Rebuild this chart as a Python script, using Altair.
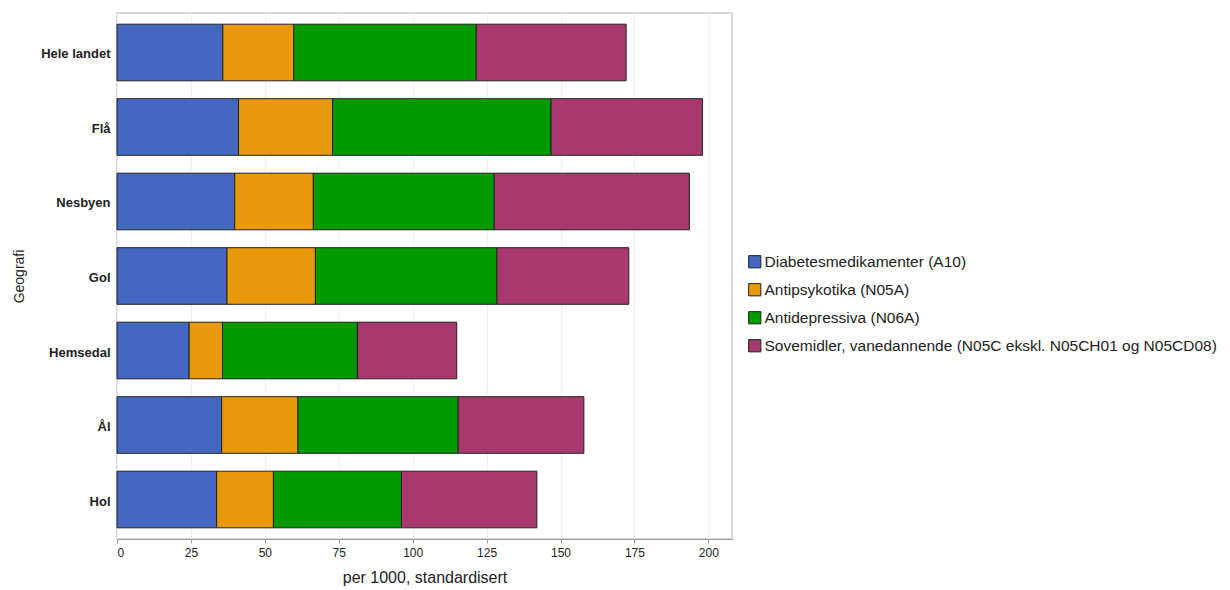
import altair as alt
import pandas as pd

regions = ["Hele landet", "Flå", "Nesbyen", "Gol", "Hemsedal", "Ål", "Hol"]
series = [
    "Diabetesmedikamenter (A10)",
    "Antipsykotika (N05A)",
    "Antidepressiva (N06A)",
    "Sovemidler, vanedannende (N05C ekskl. N05CH01 og N05CD08)",
]
colors = ["#4468c0", "#e8990a", "#009900", "#a8396e"]

diabetes = [35.8, 41.1, 39.8, 37.2, 24.4, 35.4, 33.7]
antipsykotika = [24.0, 31.8, 26.6, 29.9, 11.3, 25.8, 19.2]
antidepressiva = [61.7, 73.9, 61.2, 61.4, 45.6, 54.2, 43.3]
sovemidler = [50.7, 51.2, 66.0, 44.6, 33.6, 42.5, 45.8]

rows = []
for si, (name, vals) in enumerate(zip(series, [diabetes, antipsykotika, antidepressiva, sovemidler])):
    for r, v in zip(regions, vals):
        rows.append({"Geografi": r, "Serie": name, "verdi": v, "orden": si})
df = pd.DataFrame(rows)

chart = alt.Chart(df).mark_bar(stroke="#222222", strokeWidth=1).encode(
    y=alt.Y("Geografi:N", sort=regions, title="Geografi",
            scale=alt.Scale(paddingInner=0.24, paddingOuter=0.15),
            axis=alt.Axis(labelFont="Liberation Sans", labelFontWeight="bold", labelFontSize=13,
                          labelColor="#222222", ticks=False, domain=False, labelPadding=7,
                          labelBaseline="middle", labelOffset=2,
                          titleFont="Liberation Sans", titleFontSize=14, titleFontWeight="normal",
                          titleColor="#222222", titlePadding=14)),
    x=alt.X("verdi:Q", stack="zero", title="per 1000, standardisert",
            scale=alt.Scale(domain=[0, 208], nice=False),
            axis=alt.Axis(values=[0, 25, 50, 75, 100, 125, 150, 175, 200], labelFont="Liberation Sans",
                          labelFontSize=12, labelColor="#222222", tickColor="#999999", tickSize=4,
                          domainColor="#999999", gridColor="#eeeeee", labelPadding=4,
                          titleFont="Liberation Sans", titleFontSize=16, titleFontWeight="normal",
                          titleColor="#222222", titlePadding=11)),
    color=alt.Color("Serie:N", sort=series, title=None,
                    scale=alt.Scale(domain=series, range=colors),
                    legend=alt.Legend(orient="none", legendX=630, legendY=241, symbolType="square",
                                      symbolSize=150, symbolStrokeColor="#222222", symbolStrokeWidth=1,
                                      labelFont="Liberation Sans", labelFontSize=15.5, labelColor="#222222",
                                      rowPadding=10, labelLimit=600, symbolOffset=0, labelOffset=2)),
    order=alt.Order("orden:Q"),
).properties(
    width=615, height=526,
    autosize=alt.AutoSizeParams(type="none"),
    padding={"left": 109, "top": 5, "right": 490, "bottom": 50},
).configure_view(stroke="#cccccc", strokeWidth=1.5)

chart.save("out.html", embed_options={"renderer": "svg", "actions": False})
